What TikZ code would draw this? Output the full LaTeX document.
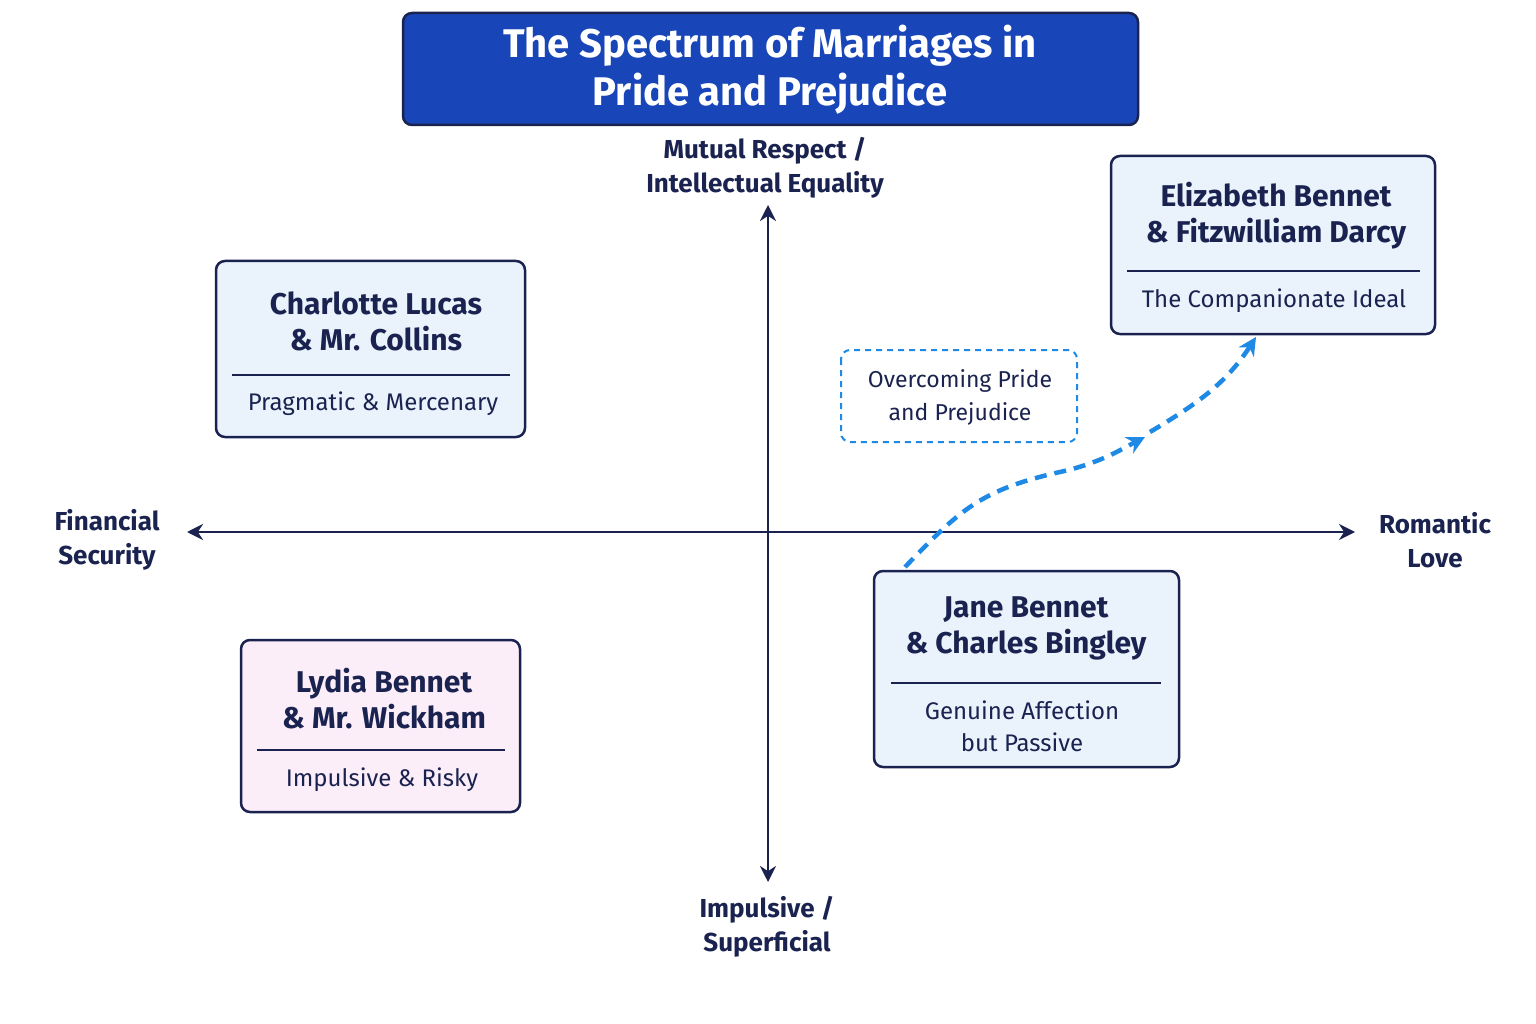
\documentclass[tikz,border=0pt]{standalone}
\usepackage{fontspec}
\setmainfont{Fira Sans}
\usetikzlibrary{arrows.meta}
\definecolor{navy}{HTML}{1A2350}
\definecolor{titleblue}{HTML}{1846B8}
\definecolor{lblue}{HTML}{EAF3FC}
\definecolor{lpink}{HTML}{FCEEF8}
\definecolor{dblue}{HTML}{1E8AE6}
\begin{document}
\begin{tikzpicture}[x=1pt,y=-1pt,
  box/.style={draw=navy,line width=2.5pt,rounded corners=9pt,fill=lblue},
  ttl/.style={font=\fontsize{30}{36}\selectfont\bfseries,text=navy,align=center},
  sub/.style={font=\fontsize{24}{32}\selectfont,text=navy,align=center},
  axl/.style={font=\fontsize{26}{34}\selectfont\bfseries,text=navy,align=center},
  ax/.style={draw=navy,line width=2.5pt,-{Stealth[length=16pt,width=16pt]}},
  dl/.style={draw=navy,line width=1.5pt}]
\useasboundingbox (0,0) rectangle (1536,1024);
\fill[white] (0,0) rectangle (1536,1024);
% title
\draw[fill=titleblue,draw=navy,line width=2.5pt,rounded corners=9pt] (403,13) rectangle (1138,125);
\node (title) at (770,70) [font=\fontsize{40}{48}\selectfont\bfseries,text=white,align=center] {The Spectrum of Marriages in\\Pride and Prejudice};
% axes
\coordinate (c) at (768,532);
\coordinate (L) at (187,532); \coordinate (R) at (1355,532);
\coordinate (T) at (768,205); \coordinate (B) at (768,882);
\draw[ax] (c) -- (L); \draw[ax] (c) -- (R);
\draw[ax] (c) -- (T); \draw[ax] (c) -- (B);
\node (ly) at (765,168) [axl] {Mutual Respect /\\Intellectual Equality};
\node (lx) at (107,540) [axl] {Financial\\Security};
\node (rx) at (1435,540) [axl] {Romantic\\Love};
\node (by) at (767,927) [axl] {Impulsive /\\Superficial};
% Charlotte
\draw[box] (216,261) rectangle (525,437);
\node (ch) at (376,321) [ttl] {Charlotte Lucas\\\& Mr. Collins};
\draw[dl] (232,375) -- (510,375);
\node (chs) at (373,404) [sub] {Pragmatic \& Mercenary};
% Elizabeth
\draw[box] (1111,156) rectangle (1435,334);
\node (el) at (1276,216) [ttl] {Elizabeth Bennet\\\& Fitzwilliam Darcy};
\draw[dl] (1127,271) -- (1420,271);
\node (els) at (1274,301) [sub] {The Companionate Ideal};
% Jane
\draw[box] (874,571) rectangle (1179,767);
\node (ja) at (1026,628) [ttl] {Jane Bennet\\\& Charles Bingley};
\draw[dl] (891,683) -- (1161,683);
\node (jas) at (1022,726) [sub] {Genuine Affection\\but Passive};
% Lydia
\draw[box,fill=lpink] (241,640) rectangle (520,812);
\node (ly2) at (384,699) [ttl] {Lydia Bennet\\\& Mr. Wickham};
\draw[dl] (257,750) -- (505,750);
\node (lys) at (382,780) [sub] {Impulsive \& Risky};
% dashed box
\draw[dblue,line width=2pt,dash pattern=on 6pt off 5pt,rounded corners=9pt] (841,350) rectangle (1077,442);
\node (ov) at (960,397) [sub,font=\fontsize{23}{33}\selectfont] {Overcoming Pride\\and Prejudice};
% path
\coordinate (p0) at (905,567);
\coordinate (p1) at (1145,437);
\coordinate (p2) at (1150,432);
\coordinate (p3) at (1256,337);
\draw[dblue,line width=4.5pt,dash pattern=on 12pt off 8pt,-{Stealth[length=18pt,width=18pt]}]
  (p0) .. controls (960,510) and (980,490) .. (1060,472) .. controls (1100,463) and (1120,450) .. (p1);
\draw[dblue,line width=4.5pt,dash pattern=on 12pt off 8pt,-{Stealth[length=18pt,width=18pt]}]
  (p2) .. controls (1195,405) and (1225,385) .. (p3);
\end{tikzpicture}
\end{document}
